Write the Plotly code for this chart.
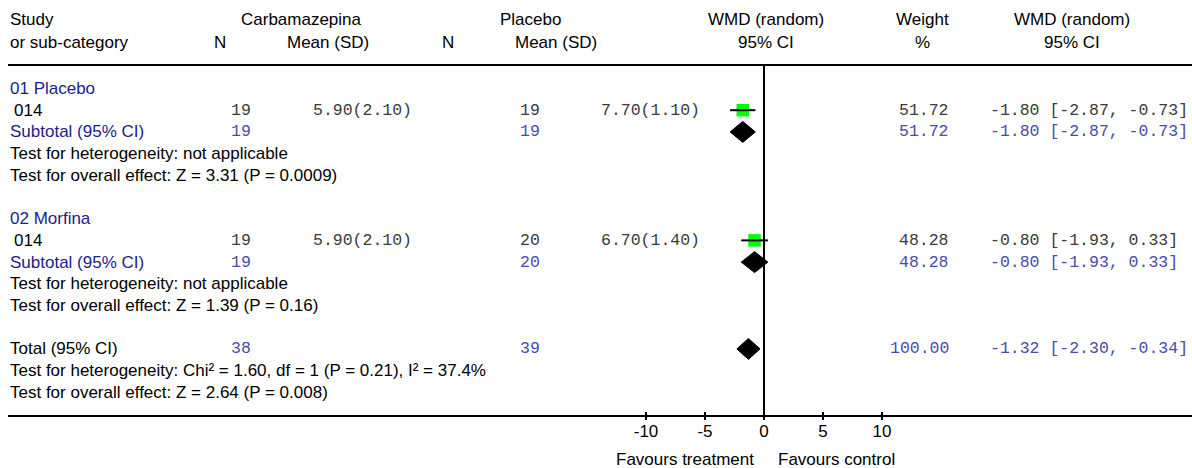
import plotly.graph_objects as go

# ---------------- data ----------------
subgroups = ["01 Placebo", "02 Morfina"]
study_ids = ["014", "014"]
carb_n = [19, 19]
carb_mean = [5.90, 5.90]
carb_sd = [2.10, 2.10]
plac_n = [19, 20]
plac_mean = [7.70, 6.70]
plac_sd = [1.10, 1.40]
weights = [51.72, 48.28]
wmd = [-1.80, -0.80]
ci_lo = [-2.87, -1.93]
ci_hi = [-0.73, 0.33]
het_tests = ["Test for heterogeneity: not applicable",
             "Test for heterogeneity: not applicable"]
overall_tests = ["Test for overall effect: Z = 3.31 (P = 0.0009)",
                 "Test for overall effect: Z = 1.39 (P = 0.16)"]
total_n = [38, 39]
total_weight = 100.00
total_wmd = -1.32
total_lo = -2.30
total_hi = -0.34
total_het = "Test for heterogeneity: Chi² = 1.60, df = 1 (P = 0.21), I² = 37.4%"
total_overall = "Test for overall effect: Z = 2.64 (P = 0.008)"
tick_vals = [-10, -5, 0, 5, 10]
favours = ["Favours treatment", "Favours control"]

# ---------------- layout constants ----------------
W, H = 1192, 468
ZERO_PX = 764.0
PX_PER_UNIT = 11.8
AX_LEFT_PX = 8
AXIS_Y_PX = 415
TOP_LINE_PX = 66
ROW0 = 88.5
ROW_H = 21.7
SANS = "Liberation Sans"
MONO = "Liberation Mono"
FS = 17
FM = 16.5
NAVY = "#1c1c8c"
BLUE_M = "#4a4aae"
GRAY_M = "#3a3a3a"

def row_y(k):
    return ROW0 + ROW_H * k

def px(x):
    return x / W

def py(y):
    return 1 - y / H

fig = go.Figure()
annotations = []

def txt(x, y, s, anchor="left", font=SANS, size=FS, color="black"):
    annotations.append(dict(x=px(x), y=py(y), xref="paper", yref="paper", text=s,
                            showarrow=False, xanchor=anchor, yanchor="middle",
                            borderpad=0,
                            font=dict(family=font, size=size, color=color)))

# header
txt(9, 20, "Study")
txt(9, 42, "or sub-category")
txt(301, 20, "Carbamazepina", "center")
txt(220, 42, "N", "center")
txt(328, 42, "Mean (SD)", "center")
txt(530, 20, "Placebo", "center")
txt(448, 42, "N", "center")
txt(556, 42, "Mean (SD)", "center")
txt(766, 20, "WMD (random)", "center")
txt(766, 42, "95% CI", "center")
txt(922, 20, "Weight", "center")
txt(922, 42, "%", "center")
txt(1072, 20, "WMD (random)", "center")
txt(1072, 42, "95% CI", "center")

study_rows = []
sub_rows = []
for i in range(len(subgroups)):
    base = 6 * i
    r_head, r_study, r_sub, r_het, r_ov = base, base + 1, base + 2, base + 3, base + 4
    study_rows.append(row_y(r_study))
    sub_rows.append(row_y(r_sub))
    ci_text = f"{wmd[i]:.2f} [{ci_lo[i]:.2f}, {ci_hi[i]:.2f}]"
    txt(9, row_y(r_head), subgroups[i], color=NAVY)
    txt(13, row_y(r_study), study_ids[i])
    txt(230, row_y(r_study), f"{carb_n[i]}", font=MONO, size=FM, color=GRAY_M)
    txt(312, row_y(r_study), f"{carb_mean[i]:.2f}({carb_sd[i]:.2f})", font=MONO, size=FM, color=GRAY_M)
    txt(519, row_y(r_study), f"{plac_n[i]}", font=MONO, size=FM, color=GRAY_M)
    txt(600, row_y(r_study), f"{plac_mean[i]:.2f}({plac_sd[i]:.2f})", font=MONO, size=FM, color=GRAY_M)
    txt(950, row_y(r_study), f"{weights[i]:.2f}", "right", font=MONO, size=FM, color=GRAY_M)
    txt(989, row_y(r_study), ci_text, font=MONO, size=FM, color=GRAY_M)
    txt(9, row_y(r_sub), "Subtotal (95% CI)", color=NAVY)
    txt(230, row_y(r_sub), f"{carb_n[i]}", font=MONO, size=FM, color=BLUE_M)
    txt(519, row_y(r_sub), f"{plac_n[i]}", font=MONO, size=FM, color=BLUE_M)
    txt(950, row_y(r_sub), f"{weights[i]:.2f}", "right", font=MONO, size=FM, color=BLUE_M)
    txt(989, row_y(r_sub), ci_text, font=MONO, size=FM, color=BLUE_M)
    txt(9, row_y(r_het), het_tests[i])
    txt(9, row_y(r_ov), overall_tests[i])

r_tot = 12
txt(9, row_y(r_tot), "Total (95% CI)")
txt(230, row_y(r_tot), f"{total_n[0]}", font=MONO, size=FM, color=BLUE_M)
txt(519, row_y(r_tot), f"{total_n[1]}", font=MONO, size=FM, color=BLUE_M)
txt(950, row_y(r_tot), f"{total_weight:.2f}", "right", font=MONO, size=FM, color=BLUE_M)
txt(989, row_y(r_tot), f"{total_wmd:.2f} [{total_lo:.2f}, {total_hi:.2f}]", font=MONO, size=FM, color=BLUE_M)
txt(9, row_y(r_tot + 1), total_het)
txt(9, row_y(r_tot + 2), total_overall)

txt(ZERO_PX - 9, 459, favours[0], "right")
txt(ZERO_PX + 13, 459, favours[1], "left")

# ---------------- marks ----------------
# study squares
fig.add_trace(go.Scatter(x=wmd, y=study_rows, mode="markers",
                         marker=dict(symbol="square", size=12.5, color="#00ff00",
                                     line=dict(width=0)),
                         hoverinfo="skip", showlegend=False))
# CI lines
lx, ly = [], []
for i in range(len(wmd)):
    lx += [ci_lo[i], ci_hi[i], None]
    ly += [study_rows[i], study_rows[i], None]
fig.add_trace(go.Scatter(x=lx, y=ly, mode="lines", line=dict(color="black", width=2),
                         hoverinfo="skip", showlegend=False))

# diamonds
DH = 10.5
def diamond(est, lo, hi, yc):
    fig.add_trace(go.Scatter(x=[lo, est, hi, est, lo], y=[yc, yc - DH, yc, yc + DH, yc],
                             mode="lines", fill="toself", fillcolor="black",
                             line=dict(color="black", width=1),
                             hoverinfo="skip", showlegend=False))

for i in range(len(wmd)):
    diamond(wmd[i], ci_lo[i], ci_hi[i], sub_rows[i])
diamond(total_wmd, total_lo, total_hi, row_y(r_tot))

x_range = [(AX_LEFT_PX - ZERO_PX) / PX_PER_UNIT, (W - ZERO_PX) / PX_PER_UNIT]

fig.update_layout(
    width=W, height=H, autosize=False,
    margin=dict(l=0, r=0, t=0, b=0),
    paper_bgcolor="white", plot_bgcolor="white",
    showlegend=False,
    annotations=annotations,
    xaxis=dict(domain=[AX_LEFT_PX / W, 1], range=x_range,
               showgrid=False, zeroline=True, zerolinecolor="black", zerolinewidth=2,
               showline=True, linecolor="black", linewidth=2, mirror=True,
               ticks="outside", ticklen=3, tickwidth=1.5, tickcolor="black",
               tickvals=tick_vals, ticktext=[str(v) for v in tick_vals],
               tickfont=dict(family=SANS, size=FS, color="black"),
               ticklabelstandoff=-3,
               minor=dict(tickvals=tick_vals, ticks="inside", ticklen=3,
                          tickwidth=1.5, tickcolor="black", showgrid=False),
               fixedrange=True),
    yaxis=dict(domain=[1 - AXIS_Y_PX / H, 1 - TOP_LINE_PX / H],
               range=[AXIS_Y_PX, TOP_LINE_PX],
               showgrid=False, zeroline=False, showline=False,
               showticklabels=False, ticks="", fixedrange=True),
)

fig.write_html("out.html", config={"displayModeBar": False},
               post_script="document.body.style.margin='0';")
